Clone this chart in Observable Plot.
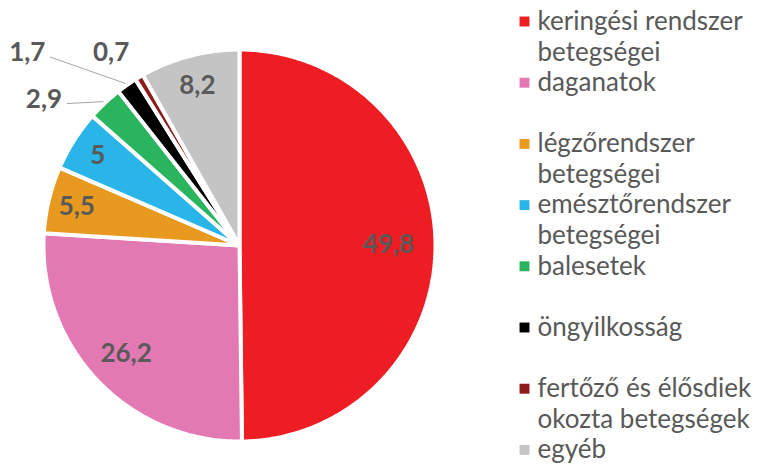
<!DOCTYPE html>
<html><head><meta charset="utf-8">
<script src="https://cdn.jsdelivr.net/npm/d3@7"></script>
<script src="https://cdn.jsdelivr.net/npm/@observablehq/plot@0.6"></script>
<style>body{margin:0;background:#fff}</style>
</head><body><div id="chart"></div>
<script>
// ---- data ----
const categories = ["keringési rendszer betegségei","daganatok","légzőrendszer betegségei","emésztőrendszer betegségei","balesetek","öngyilkosság","fertőző és élősdiek okozta betegségek","egyéb"];
const values = [49.8, 26.2, 5.5, 5, 2.9, 1.7, 0.7, 8.2];
const colors = ["#EE1D24","#E279B2","#E8991F","#29B5E8","#2AB45E","#000000","#8E1B1B","#C4C4C4"];

// ---- layout ----
const W = 759, H = 464, CX = 239, CY = 245, R = 196;
const sx = p => (p - CX) / R, sy = p => (CY - p) / R;
// manual nudges (pixels) for small outside labels, like the reference
const outsideNudge = {"balesetek": [-34, 25], "öngyilkosság": [-77, 0], "fertőző és élősdiek okozta betegségek": [-8, 9]};

const rows = categories.map((c, i) => ({cat: c, value: values[i]}));
const arcs = d3.pie().sort(null).value(d => d.value)(rows);

const pts = [];
arcs.forEach(a => {
  const n = Math.max(2, Math.ceil((a.endAngle - a.startAngle) / 0.01));
  pts.push({cat: a.data.cat, x: 0, y: 0});
  for (let k = 0; k <= n; k++) {
    const t = a.startAngle + (a.endAngle - a.startAngle) * k / n;
    pts.push({cat: a.data.cat, x: Math.sin(t), y: Math.cos(t)});
  }
});

const labels = [], leaders = [];
arcs.forEach(a => {
  const m = (a.startAngle + a.endAngle) / 2;
  const txt = String(a.data.value).replace(".", ",");
  if (a.data.value >= 5) {
    const rho = 0.9 - 0.14 * Math.sqrt(a.data.value / 50);
    labels.push({x: rho * Math.sin(m), y: rho * Math.cos(m), t: txt});
  } else {
    const nd = outsideNudge[a.data.cat] || [0, 0];
    const px = CX + 1.2 * R * Math.sin(m) + nd[0];
    const py = CY - 1.2 * R * Math.cos(m) + nd[1];
    labels.push({x: sx(px), y: sy(py), t: txt});
    if (Math.hypot(nd[0], nd[1]) > 20) {
      leaders.push({x1: sx(px + 23), y1: sy(py + 4), x2: 1.01 * Math.sin(m), y2: 1.01 * Math.cos(m)});
    }
  }
});

// legend
const legSq = [], legTxt = [];
categories.forEach((c, i) => {
  const py = 21 + 61.2 * i;
  legSq.push({x: sx(524), y: sy(py), cat: c});
  const words = c.split(" "); const lines = []; let cur = "";
  words.forEach(w => { const nx = cur ? cur + " " + w : w; if (nx.length > 19 && cur) { lines.push(cur); cur = w; } else cur = nx; });
  lines.push(cur);
  lines.forEach((l, j) => legTxt.push({x: sx(537), y: sy(py + 31 * j), t: l}));
});

const chart = Plot.plot({
  width: W, height: H, margin: 0,
  style: {fontFamily: "Lato, sans-serif", background: "#fff"},
  x: {domain: [sx(0), sx(W)], range: [0, W], axis: null},
  y: {domain: [sy(H), sy(0)], range: [H, 0], axis: null},
  color: {domain: categories, range: colors},
  marks: [
    Plot.line(pts, {x: "x", y: "y", z: "cat", fill: "cat", stroke: "white", strokeWidth: 4, curve: "linear-closed", strokeLinejoin: "miter"}),
    Plot.link(leaders, {x1: "x1", y1: "y1", x2: "x2", y2: "y2", stroke: "#A6A6A6", strokeWidth: 1}),
    Plot.text(labels, {x: "x", y: "y", text: "t", fill: "#595959", fontWeight: "bold", fontSize: 26}),
    Plot.dot(legSq, {x: "x", y: "y", fill: "cat", symbol: "square", r: 5.6, stroke: null}),
    Plot.text(legTxt, {x: "x", y: "y", text: "t", textAnchor: "start", fill: "#595959", fontSize: 26})
  ]
});
document.getElementById("chart").appendChild(chart);
</script>
</body></html>
